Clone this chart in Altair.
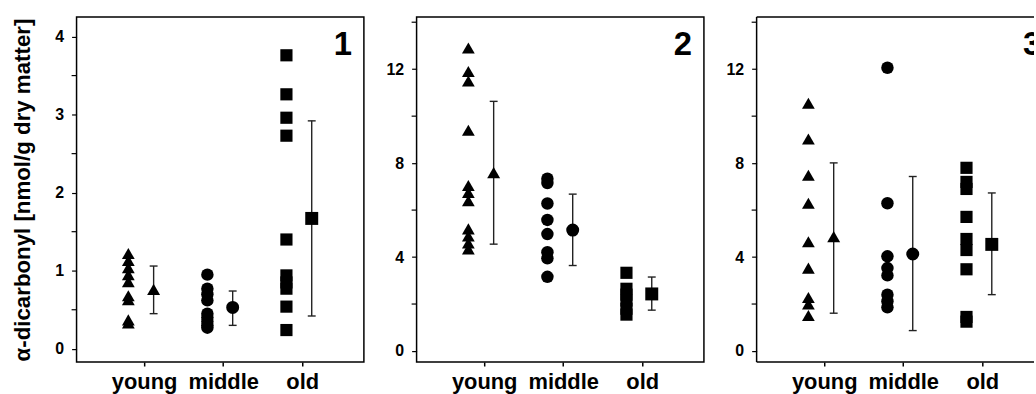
import altair as alt
import pandas as pd

categories = ["young", "middle", "old"]
shapes = ["triangle-up", "circle", "square"]

# Panel 1
p1_young = [1.22, 1.13, 1.04, 0.95, 0.86, 0.68, 0.63, 0.37, 0.33]
p1_middle = [0.95, 0.77, 0.70, 0.62, 0.45, 0.40, 0.35, 0.30, 0.27]
p1_old = [3.76, 3.26, 2.96, 2.73, 1.40, 0.94, 0.85, 0.77, 0.54, 0.24]
p1_mean = [0.76, 0.53, 1.67]
p1_lo = [0.45, 0.30, 0.42]
p1_hi = [1.06, 0.74, 2.92]

# Panel 2
p2_young = [12.9, 11.9, 11.5, 9.4, 7.05, 6.75, 6.4, 5.2, 4.9, 4.6, 4.35]
p2_middle = [7.34, 7.15, 6.28, 5.58, 4.98, 4.21, 3.95, 3.16]
p2_old = [3.33, 2.65, 2.4, 2.15, 1.8, 1.55]
p2_mean = [7.6, 5.15, 2.43]
p2_lo = [4.55, 3.64, 1.74]
p2_hi = [10.63, 6.68, 3.15]

# Panel 3
p3_young = [10.55, 9.03, 7.48, 6.29, 4.65, 3.53, 2.28, 2.0, 1.51]
p3_middle = [12.06, 6.29, 4.03, 3.53, 3.22, 2.4, 2.12, 1.86]
p3_old = [7.8, 7.2, 6.9, 5.71, 4.77, 4.30, 3.48, 1.45, 1.25]
p3_mean = [4.87, 4.13, 4.54]
p3_lo = [1.61, 0.87, 2.40]
p3_hi = [8.01, 7.43, 6.73]

p1_major = [0, 1, 2, 3, 4]
p1_minor = [0.5, 1.5, 2.5, 3.5]
p23_major = [0, 4, 8, 12]
p23_minor = [2, 6, 10, 14]

y_title = "α-dicarbonyl [nmol/g dry matter]"

W, H = 289, 347
W3 = 279                      # last panel is cut by the right edge of the picture
XMIN, XMAX = 0.145, 3.78
IND_OFF, MEAN_OFF, CAP = -0.2, 0.12, 0.05
FONT = "Liberation Sans"

label_expr = "[" + ",".join(f"'{c}'" for c in categories) + "][datum.value - 1]"


def make_panel(num, groups, means, los, his, ydom, major, minor, show_title,
               width=W, cut=False, num_x=None):
    ind_rows = []
    for gi, vals in enumerate(groups):
        for v in vals:
            ind_rows.append({"group": categories[gi], "x": gi + 1 + IND_OFF, "v": v})
    ind = pd.DataFrame(ind_rows)
    summ = pd.DataFrame({
        "group": categories,
        "x": [i + 1 + MEAN_OFF for i in range(3)],
        "xl": [i + 1 + MEAN_OFF - CAP for i in range(3)],
        "xr": [i + 1 + MEAN_OFF + CAP for i in range(3)],
        "m": means, "lo": los, "hi": his,
    })
    mdf = pd.DataFrame({"t": minor})

    xmax = XMIN + (XMAX - XMIN) * width / W
    xscale = alt.Scale(domain=[XMIN, xmax], nice=False, zero=False)
    yscale = alt.Scale(domain=ydom, nice=False, zero=False)
    shape_scale = alt.Scale(domain=categories, range=shapes)
    size_scale = alt.Scale(domain=categories, range=[165, 150, 125])

    xaxis = alt.Axis(values=[1, 2, 3], labelExpr=label_expr, title=None,
                     labelFontSize=22, labelFontWeight="bold", labelColor="black",
                     tickSize=4, tickColor="black", tickWidth=1.5, labelPadding=6,
                     domain=False, grid=False, labelFont=FONT)
    yaxis_kw = dict(values=major, format="d", labelFontSize=16, labelFontWeight="bold",
                    labelColor="black", tickSize=5, tickColor="black", tickWidth=1.2,
                    labelPadding=8, domain=False, grid=False, labelFont=FONT)
    if show_title:
        yaxis = alt.Axis(title=y_title, titleFontSize=22.4, titleFontWeight="bold",
                         titleColor="black", titleFont=FONT, titlePadding=20,
                         minExtent=22, maxExtent=22, **yaxis_kw)
    else:
        yaxis = alt.Axis(title=None, **yaxis_kw)

    pts = alt.Chart(ind).mark_point(filled=True, opacity=1, color="black").encode(
        x=alt.X("x:Q", scale=xscale, axis=xaxis),
        y=alt.Y("v:Q", scale=yscale, axis=yaxis),
        shape=alt.Shape("group:N", scale=shape_scale, legend=None),
        size=alt.Size("group:N", scale=size_scale, legend=None),
    )
    rule_kw = dict(color="#222", strokeWidth=1.4)
    bars = alt.Chart(summ).mark_rule(**rule_kw).encode(x="x:Q", y="lo:Q", y2="hi:Q")
    cap_lo = alt.Chart(summ).mark_rule(**rule_kw).encode(x="xl:Q", x2="xr:Q", y="lo:Q")
    cap_hi = alt.Chart(summ).mark_rule(**rule_kw).encode(x="xl:Q", x2="xr:Q", y="hi:Q")
    mpts = alt.Chart(summ).mark_point(filled=True, opacity=1, color="black").encode(
        x="x:Q", y="m:Q",
        shape=alt.Shape("group:N", scale=shape_scale, legend=None),
        size=alt.value(170),
    )
    minor_ticks = alt.Chart(mdf).mark_rule(color="black", strokeWidth=1.2).encode(
        x=alt.value(-5), x2=alt.value(0), y="t:Q")
    num_df = pd.DataFrame({"n": [str(num)]})
    if cut:
        label = alt.Chart(num_df).mark_text(
            align="left", baseline="alphabetic", fontSize=33, fontWeight="bold",
            font=FONT, color="black", clip=True).encode(
            x=alt.value(num_x), y=alt.value(38), text="n:N")
    else:
        label = alt.Chart(num_df).mark_text(
            align="right", baseline="alphabetic", fontSize=33, fontWeight="bold",
            font=FONT, color="black").encode(
            x=alt.value(width - 12), y=alt.value(38), text="n:N")
    layers = [pts, bars, cap_lo, cap_hi, mpts, minor_ticks, label]
    if cut:
        one = pd.DataFrame({"a": [0]})
        fk = dict(color="black", strokeWidth=1.5)
        layers += [
            alt.Chart(one).mark_rule(**fk).encode(x=alt.value(0), y=alt.value(0), y2=alt.value(H)),
            alt.Chart(one).mark_rule(**fk).encode(x=alt.value(0), x2=alt.value(width), y=alt.value(0)),
            alt.Chart(one).mark_rule(**fk).encode(x=alt.value(0), x2=alt.value(width), y=alt.value(H)),
        ]
        return alt.layer(*layers).properties(
            width=width, height=H, view=alt.ViewBackground(stroke="transparent"))
    return alt.layer(*layers).properties(width=width, height=H)


c1 = make_panel(1, [p1_young, p1_middle, p1_old], p1_mean, p1_lo, p1_hi,
                [-0.17, 4.25], p1_major, p1_minor, True)
c2 = make_panel(2, [p2_young, p2_middle, p2_old], p2_mean, p2_lo, p2_hi,
                [-0.47, 14.22], p23_major, p23_minor, False)
c3 = make_panel(3, [p3_young, p3_middle, p3_old], p3_mean, p3_lo, p3_hi,
                [-0.47, 14.22], p23_major, p23_minor, False,
                width=W3, cut=True, num_x=268)

chart = alt.hconcat(c1, c2, c3, spacing=20).properties(
    padding={"left": 11, "top": 14, "right": 0, "bottom": 0}
).configure(
    font=FONT,
    view=alt.ViewConfig(stroke="black", strokeWidth=1.5),
)

chart.save("out.html", embed_options={"renderer": "svg", "actions": False})
